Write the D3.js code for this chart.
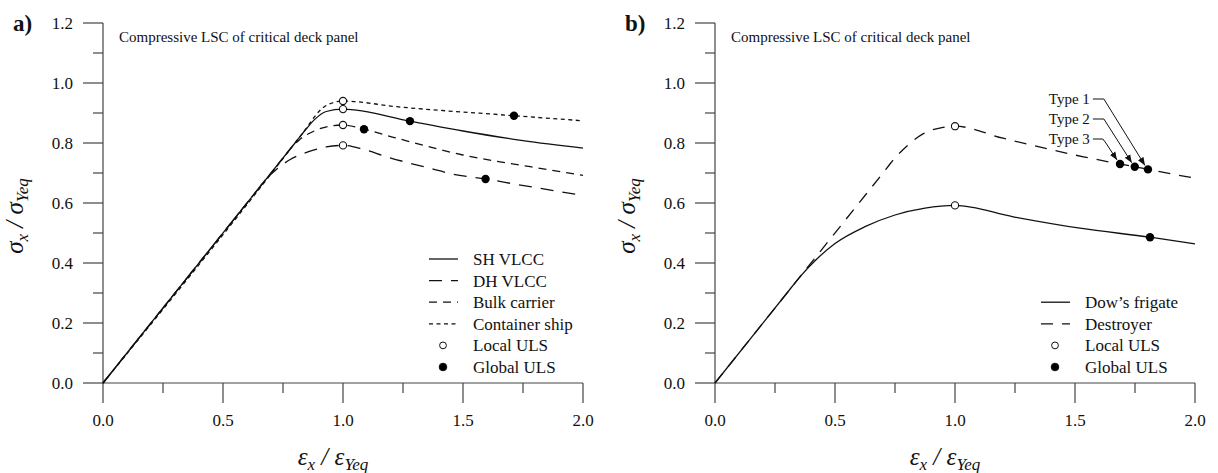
<!DOCTYPE html>
<html lang="en">

<head>
    <meta charset="utf-8" />
    <title>Compressive LSC of critical deck panel</title>
    <script src="https://d3js.org/d3.v7.min.js"></script>
</head>
<style>
    body { margin: 0; background: #fff; }
    text { font-family: "Liberation Serif", "Times New Roman", serif; fill: #111; }
    .tick-label { font-size: 17px; }
    .axis-line { stroke: #444; stroke-width: 1.2px; fill: none; }
    .curve { fill: none; stroke: #111; stroke-width: 1.3px; }
    .math { font-family: "Liberation Serif", serif; font-style: italic; font-size: 25px; }
</style>

<body>
    <div id="chart"></div>
</body>

<script>
    // ---- data ----
    var xTicks = [0, 0.5, 1.0, 1.5, 2.0];
    var yTicks = [0, 0.2, 0.4, 0.6, 0.8, 1.0, 1.2];

    // panel a) – [strain ratio, stress ratio]
    var shVlcc = [[0, 0], [0.8, 0.8], [0.85, 0.85], [0.88, 0.877], [0.93, 0.905], [1.0, 0.913], [1.279, 0.873], [1.5, 0.84], [1.75, 0.808], [2.0, 0.783]];
    var dhVlcc = [[0, 0], [0.64, 0.64], [0.68, 0.68], [0.72, 0.71], [0.78, 0.745], [0.86, 0.772], [0.93, 0.787], [1.0, 0.792], [1.085, 0.779], [1.182, 0.754], [1.272, 0.734], [1.3625, 0.716], [1.453, 0.697], [1.594, 0.68], [1.724, 0.662], [2.0, 0.625]];
    var bulkCarrier = [[0, 0], [0.74, 0.74], [0.78, 0.78], [0.82, 0.812], [0.88, 0.84], [0.95, 0.857], [1.0, 0.86], [1.0875, 0.846], [1.224, 0.816], [1.5, 0.76], [1.78, 0.721], [2.0, 0.692]];
    var containerShip = [[0, 0], [0.8, 0.8], [0.85, 0.852], [0.88, 0.886], [0.93, 0.925], [1.0, 0.94], [1.224, 0.921], [1.7125, 0.891], [2.0, 0.874]];
    var localUlsA = [[1.0, 0.913], [1.0, 0.792], [1.0, 0.86], [1.0, 0.94]];
    var globalUlsA = [[1.279, 0.873], [1.594, 0.68], [1.0875, 0.846], [1.7125, 0.891]];

    // panel b)
    var dowsFrigate = [[0, 0], [0.3, 0.3], [0.354, 0.354], [0.42, 0.41], [0.5, 0.465], [0.625, 0.521], [0.75, 0.56], [0.875, 0.583], [1.0, 0.592], [1.243, 0.554], [1.521, 0.516], [1.8125, 0.486], [2.0, 0.464]];
    var destroyer = [[0, 0], [0.7, 0.7], [0.75, 0.75], [0.8, 0.79], [0.87, 0.832], [0.95, 0.852], [1.0, 0.856], [1.2, 0.816], [1.535, 0.754], [1.6875, 0.73], [1.749, 0.721], [1.804, 0.712], [2.0, 0.683]];
    var localUlsB = [[1.0, 0.592], [1.0, 0.856]];
    var globalUlsB = [[1.8125, 0.486], [1.6875, 0.73], [1.749, 0.721], [1.804, 0.712]];
    var typeNames = ["Type 1", "Type 2", "Type 3"];
    var typePoints = [[1.804, 0.712], [1.749, 0.721], [1.6875, 0.73]];

    var width = 1218, height = 473;
    var svg = d3.select("#chart").append("svg")
        .attr("width", width)
        .attr("height", height);

    var defs = svg.append("defs");
    defs.append("marker")
        .attr("id", "arrow")
        .attr("viewBox", "0 0 10 10")
        .attr("refX", 10).attr("refY", 5)
        .attr("markerWidth", 8).attr("markerHeight", 8)
        .attr("markerUnits", "userSpaceOnUse")
        .attr("orient", "auto")
        .append("path").attr("d", "M0,1 L10,5 L0,9 Z").attr("fill", "#111");

    var dashes = { solid: null, longDash: "13,9", dash: "8,6", shortDash: "4,3.5", destroyer: "12,9" };

    function drawPanel(left, cfg) {
        var x = d3.scaleLinear().domain([0, 2]).range([left, left + 480]);
        var y = d3.scaleLinear().domain([0, 1.2]).range([383, 23]);
        var g = svg.append("g");

        // axes
        g.append("line").attr("class", "axis-line")
            .attr("x1", x(0)).attr("x2", x(2)).attr("y1", y(0)).attr("y2", y(0));
        g.append("line").attr("class", "axis-line")
            .attr("x1", x(0)).attr("x2", x(0)).attr("y1", y(0)).attr("y2", y(1.2));

        var xMinor = d3.range(0, 2.01, 0.25);
        g.selectAll(".xt").data(xMinor).enter().append("line")
            .attr("class", "axis-line")
            .attr("x1", function (d) { return x(d); }).attr("x2", function (d) { return x(d); })
            .attr("y1", y(0))
            .attr("y2", function (d, i) { return y(0) + (i % 2 === 0 ? 20 : 10); });
        var yMinor = d3.range(0, 1.21, 0.1);
        g.selectAll(".yt").data(yMinor).enter().append("line")
            .attr("class", "axis-line")
            .attr("y1", function (d) { return y(d); }).attr("y2", function (d) { return y(d); })
            .attr("x1", x(0))
            .attr("x2", function (d, i) { return x(0) - (i % 2 === 0 ? 20 : 10); });

        g.selectAll(".xl").data(xTicks).enter().append("text")
            .attr("class", "tick-label")
            .attr("x", function (d) { return x(d); })
            .attr("y", y(0) + 43)
            .attr("text-anchor", "middle")
            .text(function (d) { return d3.format(".1f")(d); });
        g.selectAll(".yl").data(yTicks).enter().append("text")
            .attr("class", "tick-label")
            .attr("x", x(0) - 30)
            .attr("y", function (d) { return y(d) + 6; })
            .attr("text-anchor", "end")
            .text(function (d) { return d3.format(".1f")(d); });

        // panel letter + title
        g.append("text").attr("x", left - 90).attr("y", 31)
            .style("font-size", "23px").style("font-weight", "bold")
            .text(cfg.letter);
        g.append("text").attr("x", left + 16).attr("y", 42)
            .style("font-size", "15px")
            .text("Compressive LSC of critical deck panel");

        // axis titles
        var xl = g.append("text").attr("class", "math")
            .attr("x", x(1) - 10).attr("y", 465).attr("text-anchor", "middle");
        xl.append("tspan").text("ε");
        xl.append("tspan").attr("dy", 5).style("font-size", "17px").text("x");
        xl.append("tspan").attr("dy", -5).text(" / ε");
        xl.append("tspan").attr("dy", 5).style("font-size", "17px").text("Yeq");

        var yl = g.append("text").attr("class", "math")
            .attr("transform", "translate(" + (left - 80) + "," + 216 + ") rotate(-90)")
            .attr("text-anchor", "middle");
        yl.append("tspan").text("σ");
        yl.append("tspan").attr("dy", 5).style("font-size", "17px").text("x");
        yl.append("tspan").attr("dy", -5).text(" / σ");
        yl.append("tspan").attr("dy", 5).style("font-size", "17px").text("Yeq");

        // curves
        var line = d3.line()
            .x(function (d) { return x(d[0]); })
            .y(function (d) { return y(d[1]); })
            .curve(d3.curveMonotoneX);
        cfg.series.forEach(function (s) {
            g.append("path").attr("class", "curve")
                .attr("d", line(s.data))
                .attr("stroke-dasharray", s.dash);
        });

        // ULS markers
        g.selectAll(".loc").data(cfg.local).enter().append("circle")
            .attr("cx", function (d) { return x(d[0]); })
            .attr("cy", function (d) { return y(d[1]); })
            .attr("r", 3.6).attr("fill", "#fff").attr("stroke", "#111").attr("stroke-width", 1.1);
        g.selectAll(".glo").data(cfg.global).enter().append("circle")
            .attr("cx", function (d) { return x(d[0]); })
            .attr("cy", function (d) { return y(d[1]); })
            .attr("r", 4.2).attr("fill", "#000");

        // legend
        var items = cfg.series.map(function (s) { return { name: s.name, dash: s.dash, kind: "line" }; })
            .concat([{ name: "Local ULS", kind: "open" }, { name: "Global ULS", kind: "filled" }]);
        var ly0 = 367 - (items.length - 1) * 21.6;
        var lg = g.append("g");
        items.forEach(function (it, i) {
            var yy = ly0 + i * 21.6;
            if (it.kind === "line") {
                lg.append("line").attr("class", "curve")
                    .attr("x1", cfg.legendX).attr("x2", cfg.legendX + 29)
                    .attr("y1", yy).attr("y2", yy)
                    .attr("stroke-dasharray", it.dash);
            } else {
                lg.append("circle").attr("cx", cfg.legendX + 14).attr("cy", yy)
                    .attr("r", it.kind === "open" ? 3.4 : 3.8)
                    .attr("fill", it.kind === "open" ? "#fff" : "#000")
                    .attr("stroke", "#111").attr("stroke-width", 1);
            }
            lg.append("text").attr("x", cfg.legendX + 44).attr("y", yy + 6)
                .style("font-size", "17px").text(it.name);
        });

        return { x: x, y: y, g: g };
    }

    drawPanel(103, {
        letter: "a)",
        legendX: 429,
        series: [
            { name: "SH VLCC", data: shVlcc, dash: dashes.solid },
            { name: "DH VLCC", data: dhVlcc, dash: dashes.longDash },
            { name: "Bulk carrier", data: bulkCarrier, dash: dashes.dash },
            { name: "Container ship", data: containerShip, dash: dashes.shortDash }
        ],
        local: localUlsA,
        global: globalUlsA
    });

    var pb = drawPanel(715, {
        letter: "b)",
        legendX: 1041,
        series: [
            { name: "Dow\u2019s frigate", data: dowsFrigate, dash: dashes.solid },
            { name: "Destroyer", data: destroyer, dash: dashes.destroyer }
        ],
        local: localUlsB,
        global: globalUlsB
    });

    // Type 1..3 callouts
    var labelRight = pb.x(1.562);
    typeNames.forEach(function (name, i) {
        var ty = 99 + i * 20;
        var p = typePoints[i];
        var px = pb.x(p[0]) - 3, py = pb.y(p[1]) - 4;
        pb.g.append("text").attr("x", labelRight).attr("y", ty + 5)
            .attr("text-anchor", "end").style("font-size", "15px").text(name);
        var bend = i === 2 ? [[labelRight + 3, ty], [labelRight + 13, ty], [labelRight + 16, ty + 4]]
            : [[labelRight + 3, ty], [labelRight + 14, ty]];
        pb.g.append("path")
            .attr("d", d3.line()(bend.concat([[px, py]])))
            .attr("fill", "none").attr("stroke", "#111").attr("stroke-width", 1)
            .attr("marker-end", "url(#arrow)");
    });
</script>

</html>
